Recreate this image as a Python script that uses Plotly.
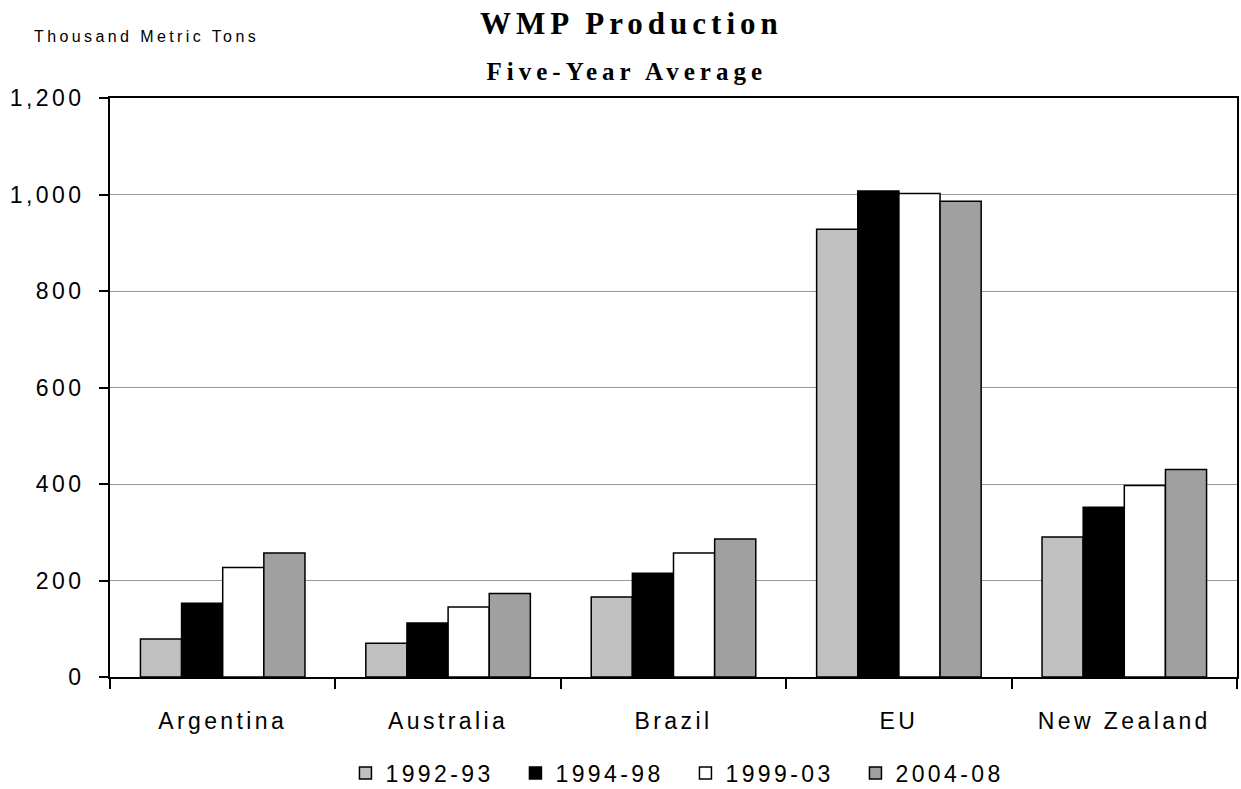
import plotly.graph_objects as go

categories = ["Argentina", "Australia", "Brazil", "EU", "New Zealand"]
series_names = ["1992-93", "1994-98", "1999-03", "2004-08"]
v_1992_93 = [79, 70, 166, 928, 290]
v_1994_98 = [153, 112, 215, 1007, 352]
v_1999_03 = [227, 145, 257, 1002, 397]
v_2004_08 = [257, 173, 286, 986, 430]
colors = ["#C0C0C0", "#000000", "#FFFFFF", "#A0A0A0"]

fig = go.Figure()
for name, vals, col in zip(series_names, [v_1992_93, v_1994_98, v_1999_03, v_2004_08], colors):
    fig.add_trace(go.Bar(x=categories, y=vals, name=name,
                         marker=dict(color=col, line=dict(color="black", width=1.5))))

fig.update_layout(
    width=1241, height=789,
    margin=dict(l=110, r=2, t=98, b=112),
    paper_bgcolor="white", plot_bgcolor="white",
    barmode="group", bargap=0.27, bargroupgap=0,
    font=dict(family="Liberation Sans, Arial", size=23, color="black"),
    showlegend=True,
    legend=dict(orientation="h", x=0.5106, xanchor="center",
                yref="container", y=0.0203, yanchor="middle",
                font=dict(size=23), itemwidth=30, entrywidth=125, entrywidthmode="pixels"),
    annotations=[
        dict(text="<b>WMP Production</b>", xref="paper", yref="paper", x=0.4628, y=1.129,
             xanchor="center", yanchor="middle", showarrow=False,
             font=dict(family="Liberation Serif, Times New Roman", size=31, color="black")),
        dict(text="<b>Five-Year Average</b>", xref="paper", yref="paper", x=0.4588, y=1.0455,
             xanchor="center", yanchor="middle", showarrow=False,
             font=dict(family="Liberation Serif, Times New Roman", size=25, color="black")),
        dict(text="Thousand Metric Tons", xref="paper", yref="paper", x=-0.039, y=1.107,
             xanchor="left", yanchor="middle", showarrow=False,
             font=dict(family="Liberation Sans, Arial", size=16, color="black")),
    ],
)
fig.update_yaxes(range=[0, 1200], tickvals=[0, 200, 400, 600, 800, 1000, 1200],
                 tickformat=",", showgrid=True, gridcolor="#999999", gridwidth=1,
                 showline=True, linecolor="black", linewidth=2, mirror=True,
                 ticks="outside", ticklen=9, tickwidth=2, tickcolor="black",
                 ticklabelstandoff=10, zeroline=False, tickfont=dict(size=23))
fig.update_xaxes(showline=True, linecolor="black", linewidth=2, mirror=True,
                 ticks="outside", tickson="boundaries", ticklen=10, tickwidth=2,
                 tickcolor="black", showgrid=False, ticklabelstandoff=22,
                 tickfont=dict(size=23))

post = """
document.body.style.margin='0';
document.body.style.overflow='hidden';
document.querySelectorAll('.main-svg text').forEach(function(t){
  var ff = (t.style.fontFamily || '');
  t.style.letterSpacing = ff.indexOf('Serif') >= 0 ? '5px' : '3.4px';
});
"""
fig.write_html("out.html", post_script=post, config={"displayModeBar": False})
